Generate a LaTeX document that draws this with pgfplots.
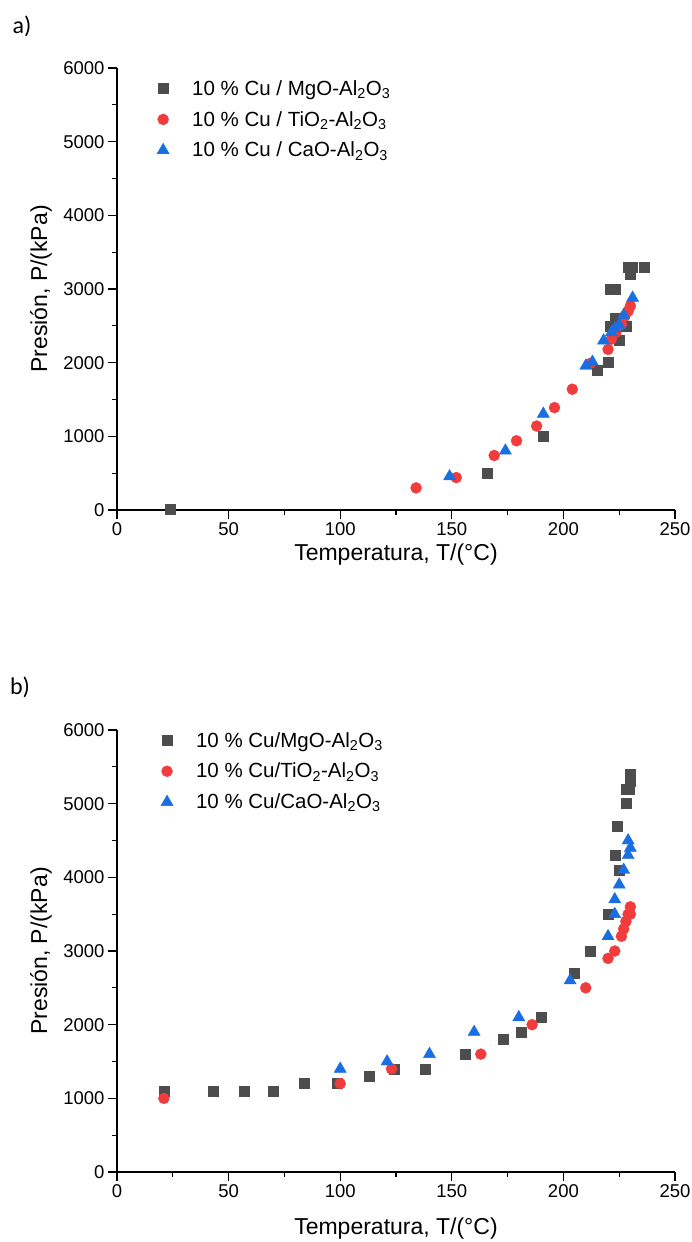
\documentclass[border=0pt]{standalone}
\usepackage{fontspec}
\setmainfont{Liberation Sans}
\newfontfamily\calibri{Carlito}
\usepackage{pgfplots}
\pgfplotsset{compat=1.18}
\definecolor{cgray}{RGB}{77,77,77}
\definecolor{cred}{RGB}{240,60,60}
\definecolor{cblue}{RGB}{25,110,225}

\pgfplotsset{
 common/.style={
  width=558pt, height=442pt, scale only axis,
  xmin=0, xmax=250, ymin=0, ymax=6000,
  axis lines=left, axis line style={-, line width=1.1pt},
  xtick={0,50,...,250}, ytick={0,1000,...,6000},
  minor x tick num=1, minor y tick num=1,
  tick align=outside, major tick length=9pt, minor tick length=5pt,
  tick style={line width=1.1pt, black},
  scaled ticks=false,
  /pgf/number format/1000 sep={},
  /pgf/number format/assume math mode=true,
  tick label style={font=\fontsize{18.5}{18.5}\selectfont},
  label style={font=\fontsize{23}{23}\selectfont},
  xlabel={Temperatura, T/(°C)},
  ylabel={Presión, P/(kPa)},
  ylabel style={at={(axis description cs:-0.136,0.5)}, anchor=center},
  legend cell align=left,
  legend style={draw=none, fill=none, anchor=north west, inner sep=0pt,
    font=\fontsize{20.5}{20.5}\selectfont, row sep=10.5pt},
 },
 ser/.style={only marks, mark=#1,
   legend image code/.code={\path[draw=none,fill=none] (-8pt,0pt) -- (27pt,0pt); \draw[##1] plot coordinates {(0pt,0pt)};}},
 sq/.style={ser=square*, color=cgray, mark size=5pt, mark options={solid, fill=cgray, draw=cgray}},
 ci/.style={ser=*, color=cred, mark size=5.5pt, mark options={solid, fill=cred, draw=cred}},
 tr/.style={ser=triangle*, color=cblue, mark size=7pt, mark options={solid, fill=cblue, draw=cblue}},
}

\begin{document}
\begin{tikzpicture}
\useasboundingbox (0pt,0pt) rectangle (692pt,-1242pt);
\node[font=\calibri\fontsize{24}{24}\selectfont] at (22pt,-26pt) {a)};
\node[font=\calibri\fontsize{24}{24}\selectfont] at (20pt,-687pt) {b)};

\begin{axis}[common, at={(117pt,-510pt)}, anchor=south west,
  xlabel style={at={(axis description cs:0.5,-0.1)}, anchor=center},
  legend style={at={(axis description cs:0.068,0.977)}}]
\addplot[sq] coordinates {
(24,10) (166,500) (191,1000) (215,1900) (220,2000) (225,2300) (221,2500) (228,2500)
(223,2600) (221,3000) (223,3000) (229,3300) (231,3300) (230,3200) (236,3300)};
\addlegendentry{10 \% Cu / MgO-Al\textsubscript{2}O\textsubscript{3}}
\addplot[ci] coordinates {
(134,300) (152,440) (169,740) (179,940) (188,1140) (196,1390) (204,1640) (212,1990)
(220,2180) (221.5,2320) (223.5,2410) (226,2520) (227.5,2630) (229,2700) (230,2770)};
\addlegendentry{10 \% Cu / TiO\textsubscript{2}-Al\textsubscript{2}O\textsubscript{3}}
\addplot[tr] coordinates {
(149,455) (174,805) (191,1305) (210,1955) (213,2010) (218,2300) (221.5,2410) (223,2465)
(225,2510) (227,2645) (231,2880)};
\addlegendentry{10 \% Cu / CaO-Al\textsubscript{2}O\textsubscript{3}}
\end{axis}

\begin{axis}[common, at={(117pt,-1172pt)}, anchor=south west,
  xlabel style={at={(axis description cs:0.5,-0.127)}, anchor=center},
  legend style={at={(axis description cs:0.075,1.0)}}]
\addplot[sq] coordinates {
(21,1100) (43,1100) (57,1100) (70,1100) (84,1200) (98.5,1200) (113,1300) (124,1400)
(138,1400) (156,1600) (173,1800) (181,1900) (190,2100) (205,2700) (212,3000) (220,3500)
(223,4300) (225,4100) (224,4700) (228,5000) (228,5200) (229.5,5200) (230,5300) (230,5400)};
\addlegendentry{10 \% Cu/MgO-Al\textsubscript{2}O\textsubscript{3}}
\addplot[ci] coordinates {
(21,1000) (100,1200) (123,1400) (163,1600) (186,2000) (210,2500) (220,2900) (223,3000)
(226,3200) (227,3300) (228,3400) (229,3500) (230,3500) (230,3600)};
\addlegendentry{10 \% Cu/TiO\textsubscript{2}-Al\textsubscript{2}O\textsubscript{3}}
\addplot[tr] coordinates {
(100,1400) (121,1500) (140,1600) (160,1900) (180,2100) (203,2600) (220,3200) (223,3500)
(223,3700) (225,3900) (227,4100) (229,4300) (230,4400) (229,4500)};
\addlegendentry{10 \% Cu/CaO-Al\textsubscript{2}O\textsubscript{3}}
\end{axis}
\end{tikzpicture}
\end{document}
